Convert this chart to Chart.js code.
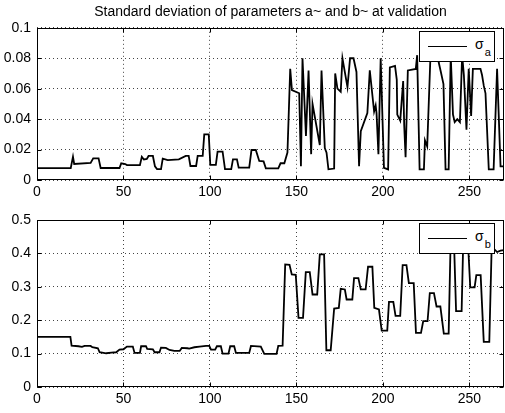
<!DOCTYPE html>
<html>
<head>
<meta charset="utf-8">
<script src="https://cdn.jsdelivr.net/npm/chart.js@4.4.0/dist/chart.umd.min.js"></script>
<style>
  html, body { margin: 0; padding: 0; background: #fff; }
  body { width: 505px; height: 413px; position: relative; overflow: hidden;
         font-family: 'Liberation Sans', Arial, Helvetica, sans-serif; }
  .panel { position: absolute; left: 0; width: 505px; }
  .legend { position: absolute; left: 419px; width: 74px; height: 29px;
            border: 1px solid #000; background: #fff; }
  .legend .swatch { position: absolute; left: 8px; top: 14px; width: 39px; height: 0;
                    border-top: 1.5px solid #000; }
  .legend .txt { position: absolute; left: 55px; top: 4px; font-size: 14px; line-height: normal;
                 white-space: nowrap; color: #000; }
  .legend .txt span { font-size: 11px; position: relative; top: 7px; left: 1px; color: #000; }
</style>
</head>
<body>
<div class="panel" id="panelA" style="top:0;height:205px">
  <canvas id="chartA" width="505" height="205"></canvas>
</div>
<div class="panel" id="panelB" style="top:205px;height:208px">
  <canvas id="chartB" width="505" height="208"></canvas>
</div>
<script>
// title and series labels
var chartTitle = 'Standard deviation of parameters a~ and b~ at validation';
var seriesLabels = ['σ_a', 'σ_b'];

// sigma_a
var aX = [0, 19.5, 20.8, 21.5, 31, 32.5, 35.6, 36.8, 47.7, 48.7, 51, 52, 59.5, 60.6, 61.8, 63.5, 64.5, 67, 68.2, 69.4,
          71.7, 72.7, 75.6, 82, 86, 87.7, 88.7, 92, 92.9, 95.8, 96.7, 99.3, 100.2, 103.4, 104.4, 107.3, 108.7, 112.3, 113.3, 115.6,
          116.6, 122.7, 124, 126.5, 128.5, 131, 132.3, 139.5, 140.8, 143, 144.8, 146.4, 147.4, 151.6, 152.6, 153.5, 155.5, 157, 158.5, 159.3,
          163.5, 164.5, 166.4, 167.4, 168.5, 171.8, 172.4, 173.7, 175.6, 176.6, 179.5, 181, 183, 184.7, 186.2, 187.2, 191, 192.4, 194.9, 195.8,
          196.3, 197.4, 198.7, 200.6, 203, 204, 207, 208, 208.3, 210, 211.7, 212.3, 213.1, 214.4, 219, 219.8, 221.2, 223.7, 224.3, 225.6,
          227.5, 231.5, 232.3, 233.5, 235, 236.2, 238, 239.2, 240.5, 241.5, 243, 244.5, 245.8, 246.8, 248.3, 249.6, 251, 252, 256.4, 257.3,
          258.3, 259.3, 261.2, 264, 266, 268, 270];
var aY = [0.0078, 0.0078, 0.0153, 0.0105, 0.0112, 0.0142, 0.0142, 0.0079, 0.0079, 0.011, 0.0105, 0.0098, 0.0098, 0.0153, 0.0135, 0.0138, 0.0158, 0.0158, 0.009, 0.0072,
          0.0072, 0.014, 0.0131, 0.0136, 0.0158, 0.0158, 0.0092, 0.0092, 0.0158, 0.0158, 0.030, 0.030, 0.0099, 0.0099, 0.0186, 0.0186, 0.0072, 0.0072, 0.0136, 0.0136,
          0.0081, 0.0081, 0.0197, 0.0197, 0.0125, 0.0122, 0.0077, 0.0077, 0.011, 0.011, 0.018, 0.073, 0.059, 0.057, 0.009, 0.080, 0.029, 0.072, 0.017, 0.050,
          0.023, 0.072, 0.021, 0.018, 0.007, 0.0075, 0.070, 0.060, 0.058, 0.080, 0.061, 0.080, 0.080, 0.071, 0.009, 0.032, 0.044, 0.072, 0.045, 0.049,
          0.044, 0.017, 0.080, 0.008, 0.007, 0.074, 0.075, 0.066, 0.043, 0.039, 0.065, 0.036, 0.015, 0.072, 0.073, 0.082, 0.007, 0.007, 0.026, 0.022,
          0.082, 0.082, 0.077, 0.071, 0.063, 0.007, 0.007, 0.082, 0.043, 0.038, 0.040, 0.038, 0.082, 0.069, 0.033, 0.073, 0.042, 0.073, 0.073, 0.069,
          0.062, 0.057, 0.007, 0.007, 0.073, 0.009, 0.009];

// sigma_b
var bX = [0, 19.3, 20, 24, 26, 27.5, 31, 32, 35.2, 36.2, 40, 43, 45.8, 47.7, 50, 52, 55.4, 56.4, 59.5, 60.2,
          63, 63.7, 67, 68, 70.8, 71.7, 74.5, 76.6, 79.4, 82.5, 83.7, 87, 88, 91, 94, 97.7, 99.6, 100.6, 103, 104,
          106.3, 107.3, 110.7, 111.7, 114, 115, 122.7, 123.7, 129.4, 131.4, 138.5, 139.5, 142, 143.5, 146, 147.3, 149.6, 151.2, 153.8, 155.4,
          157.7, 159.3, 162, 163.5, 166, 167.3, 169.8, 171.8, 174.5, 175.6, 178, 179, 182.3, 183.3, 185.8, 187.2, 190, 191.4, 193.9, 195,
          197.7, 199.3, 202.5, 203.5, 206, 207.3, 210, 211.4, 213.6, 215, 217.8, 219.1, 222, 223.3, 225.8, 227.1, 229.5, 231, 233.2, 235.2,
          238, 239.2, 241, 242.3, 245.5, 246.5, 249, 250.5, 253, 254, 256.5, 258.3, 261.5, 262.8, 264.5, 266, 268, 270];
var bY = [0.150, 0.150, 0.124, 0.122, 0.120, 0.123, 0.123, 0.119, 0.116, 0.104, 0.101, 0.103, 0.104, 0.112, 0.113, 0.121, 0.121, 0.102, 0.102, 0.122,
          0.122, 0.114, 0.113, 0.104, 0.104, 0.118, 0.117, 0.111, 0.108, 0.108, 0.117, 0.116, 0.115, 0.119, 0.121, 0.123, 0.123, 0.112, 0.112, 0.122,
          0.122, 0.100, 0.100, 0.122, 0.122, 0.102, 0.102, 0.123, 0.121, 0.099, 0.099, 0.123, 0.124, 0.367, 0.366, 0.337, 0.336, 0.207, 0.207, 0.344,
          0.344, 0.277, 0.277, 0.397, 0.397, 0.110, 0.110, 0.235, 0.237, 0.294, 0.292, 0.262, 0.262, 0.326, 0.326, 0.292, 0.292, 0.360, 0.360, 0.237,
          0.232, 0.169, 0.169, 0.255, 0.255, 0.213, 0.213, 0.365, 0.365, 0.311, 0.311, 0.162, 0.162, 0.197, 0.197, 0.281, 0.281, 0.241, 0.241, 0.160,
          0.160, 0.45, 0.45, 0.227, 0.227, 0.45, 0.45, 0.298, 0.298, 0.335, 0.335, 0.135, 0.135, 0.405, 0.412, 0.404, 0.408, 0.41];

// axis ticks
var xTicks = [0, 50, 100, 150, 200, 250];
var xMax = 270;
var aTicks = [0, 0.02, 0.04, 0.06, 0.08, 0.1];
var bTicks = [0, 0.1, 0.2, 0.3, 0.4, 0.5];

var FONT = "'Liberation Sans', Arial, Helvetica, sans-serif";

function toPoints(xs, ys) {
    return xs.map(function (x, i) { return { x: x, y: ys[i] }; });
}

// solid box round the axes, with small inward ticks like matlab
var frameTicks = {
    id: 'frameTicks',
    afterDatasetsDraw: function (chart) {
        var ctx = chart.ctx, a = chart.chartArea;
        var sx = chart.scales.x, sy = chart.scales.y;
        var L = Math.round(a.left) + 0.5, R = Math.round(a.right) - 0.5;
        var T = Math.round(a.top) + 0.5, B = Math.round(a.bottom) - 0.5;
        ctx.save();
        ctx.setLineDash([]);
        ctx.strokeStyle = '#000';
        ctx.lineWidth = 1;
        ctx.strokeRect(L, T, R - L, B - T);
        ctx.beginPath();
        sx.ticks.forEach(function (t) {
            var px = Math.round(sx.getPixelForValue(t.value)) + 0.5;
            ctx.moveTo(px, B); ctx.lineTo(px, B - 4);
            ctx.moveTo(px, T); ctx.lineTo(px, T + 4);
        });
        sy.ticks.forEach(function (t) {
            var py = Math.round(sy.getPixelForValue(t.value)) + 0.5;
            ctx.moveTo(L, py); ctx.lineTo(L + 4, py);
            ctx.moveTo(R, py); ctx.lineTo(R - 4, py);
        });
        ctx.stroke();
        ctx.restore();
    }
};

// html legend so the subscript stays real text
function buildLegend(panelId, chart, top) {
    var ds = chart.data.datasets[0];
    var parts = ds.label.split('_');
    var div = document.createElement('div');
    div.className = 'legend';
    div.style.top = top + 'px';
    div.innerHTML = '<div class="swatch"></div><div class="txt">' + parts[0] + '<span>' + parts[1] + '</span></div>';
    document.getElementById(panelId).appendChild(div);
}

function drawPanel(canvasId, xs, ys, label, yTicks, padTop, withTitle) {
    var ctx = document.getElementById(canvasId).getContext('2d');
    return new Chart(ctx, {
        type: 'line',
        data: {
            datasets: [{
                label: label,
                data: toPoints(xs, ys),
                borderColor: '#000',
                borderWidth: 1.8,
                pointRadius: 0,
                tension: 0,
                fill: false
            }]
        },
        options: {
            responsive: false,
            animation: false,
            events: [],
            parsing: false,
            layout: { padding: { top: padTop, right: 1, left: 0, bottom: 0 } },
            plugins: {
                legend: { display: false },
                tooltip: { enabled: false },
                title: {
                    display: withTitle,
                    text: chartTitle,
                    fullSize: false,
                    color: '#000',
                    font: { family: FONT, size: 14, weight: 'normal', lineHeight: 1.2 },
                    padding: { top: 4, bottom: 7 }
                }
            },
            scales: {
                x: {
                    type: 'linear',
                    min: 0,
                    max: xMax,
                    afterBuildTicks: function (scale) {
                        scale.ticks = xTicks.map(function (v) { return { value: v }; });
                    },
                    afterFit: function (scale) { scale.height = canvasId === 'chartA' ? 25 : 26; },
                    grid: { color: '#444', lineWidth: 1, drawTicks: false },
                    border: { display: false, dash: [1, 3] },
                    ticks: { color: '#000', padding: 4, maxRotation: 0, font: { family: FONT, size: 14 } }
                },
                y: {
                    type: 'linear',
                    min: yTicks[0],
                    max: yTicks[yTicks.length - 1],
                    afterBuildTicks: function (scale) {
                        scale.ticks = yTicks.map(function (v) { return { value: v }; });
                    },
                    afterFit: function (scale) { scale.width = 37; },
                    grid: { color: '#444', lineWidth: 1, drawTicks: false },
                    border: { display: false, dash: [1, 3] },
                    ticks: {
                        color: '#000', padding: 6, font: { family: FONT, size: 14 },
                        callback: function (v) { return String(+v.toFixed(3)); }
                    }
                }
            }
        },
        plugins: [frameTicks]
    });
}

var chartA = drawPanel('chartA', aX, aY, seriesLabels[0], aTicks, 0, true);
var chartB = drawPanel('chartB', bX, bY, seriesLabels[1], bTicks, 15, false);
buildLegend('panelA', chartA, 31);
buildLegend('panelB', chartB, 18);
</script>
</body>
</html>
